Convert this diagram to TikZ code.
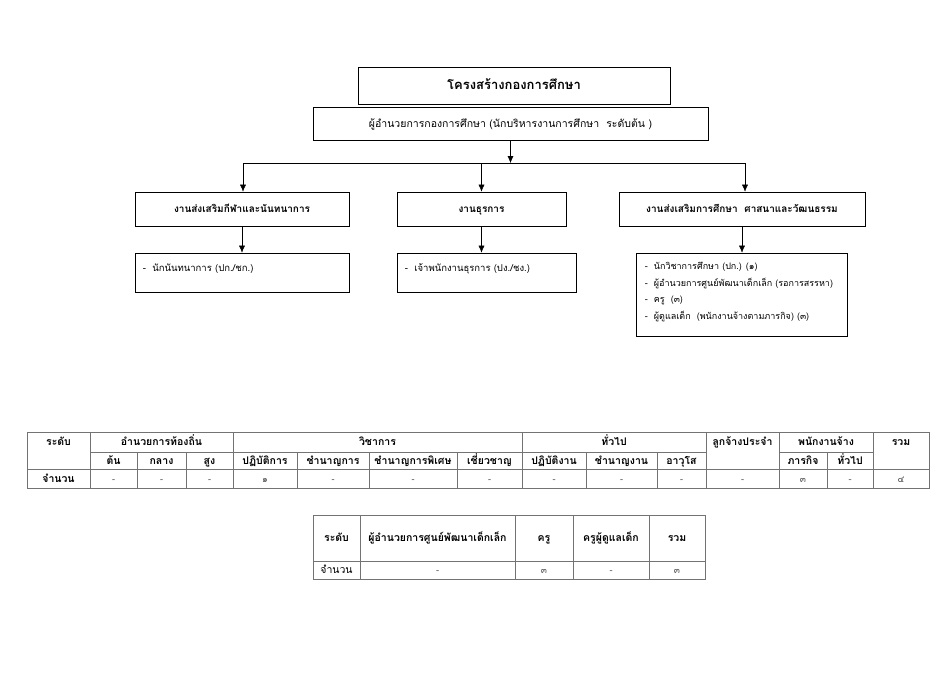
\documentclass[tikz,border=0pt]{standalone}
\usepackage{fontspec}
\setmainfont[Script = Thai]{Loma}
\usetikzlibrary{positioning}
\usetikzlibrary{calc}
\usetikzlibrary{arrows.meta}

\begin{document}
\begin{tikzpicture}
    [
        x = 1pt, y = -1pt,
        >= {Latex[length = 7pt, width = 6pt]},
        box/.style = {draw = black, line width = .7pt, inner sep = 0pt, align = center,
                      text height = .9em, text depth = .15em},
        txt/.style = {font = \fontsize{10.5}{12}\selectfont, inner sep = 0pt,
                      text height = .9em, text depth = .15em},
        bold/.style = {font = \fontsize{10.5}{12}\selectfont\bfseries, inner sep = 0pt,
                       text height = .9em, text depth = .15em},
        value/.style = {font = \fontsize{9}{10}\selectfont, inner sep = 0pt, text = black!70,
                        text height = .9em, text depth = .15em},
        grid/.style = {draw = black!55, line width = .6pt}
    ]
    \useasboundingbox (0,0) rectangle (950,672);

    % Draw the head of the division:
    \node [box, minimum width = 312, minimum height = 37, font = \fontsize{13}{15}\selectfont\bfseries]
        (title) at (514,85.5) {โครงสร้างกองการศึกษา};
    \node [box, minimum width = 395, minimum height = 33, font = \fontsize{10.5}{12}\selectfont]
        (director) at (510.5,123.5) {ผู้อำนวยการกองการศึกษา (นักบริหารงานการศึกษา~~ระดับต้น )};

    % Draw the three sections:
    \node [box, minimum width = 214, minimum height = 34, font = \fontsize{10}{12}\selectfont\bfseries]
        (sport) at (242,209) {งานส่งเสริมกีฬาและนันทนาการ};
    \node [box, minimum width = 169, minimum height = 34, font = \fontsize{10}{12}\selectfont\bfseries]
        (admin) at (481.5,209) {งานธุรการ};
    \node [box, minimum width = 246, minimum height = 34, font = \fontsize{10}{12}\selectfont\bfseries]
        (edu) at (742,209) {งานส่งเสริมการศึกษา~~ศาสนาและวัฒนธรรม};

    % Draw the staff of each section:
    \node [box, minimum width = 214, minimum height = 39] (sportstaff) at (242,272.5) {};
    \node [box, minimum width = 179, minimum height = 39] (adminstaff) at (486.5,272.5) {};
    \node [box, minimum width = 211, minimum height = 83] (edustaff) at (741.5,294.5) {};

    \node [txt, anchor = west, font = \fontsize{9.5}{11}\selectfont] (sportlist)
        at ($(sportstaff.west)+(8,-4.5)$) {-~~นักนันทนาการ (ปก./ชก.)};
    \node [txt, anchor = west, font = \fontsize{9.5}{11}\selectfont] (adminlist)
        at ($(adminstaff.west)+(8,-4.5)$) {-~~เจ้าพนักงานธุรการ (ปง./ชง.)};
    \node [anchor = north west, align = left, inner sep = 0pt, font = \fontsize{9}{16.8}\selectfont]
        (edulist) at ($(edustaff.north west)+(9,9)$)
        {-~~นักวิชาการศึกษา (ปก.) (๑)\\
         -~~ผู้อำนวยการศูนย์พัฒนาเด็กเล็ก (รอการสรรหา)\\
         -~~ครู~~(๓)\\
         -~~ผู้ดูแลเด็ก~~(พนักงานจ้างตามภารกิจ) (๓)};

    % Draw the connectors:
    \coordinate (branchL) at (243,163);
    \coordinate (branchR) at (745,163);
    \draw [->] (director.south) -- (director.south |- branchL);
    \draw (branchL) -- (branchR);
    \draw [->] (branchL) -- (branchL |- sport.north);
    \draw [->] (admin.north |- branchL) -- (admin.north);
    \draw [->] (branchR) -- (branchR |- edu.north);
    \draw [->] (sport.south) -- (sportstaff.north);
    \draw [->] (admin.south) -- (admin.south |- adminstaff.north);
    \draw [->] (edu.south) -- (edu.south |- edustaff.north);

    % Draw the first table:
    \draw [grid] (27,432) rectangle (929,488);
    \draw [grid] (90,452) -- (706,452);
    \draw [grid] (779,452) -- (873,452);
    \draw [grid] (27,469) -- (929,469);
    \foreach \x in {90, 233, 522, 706, 779, 873}
        \draw [grid] (\x,432) -- (\x,488);
    \foreach \x in {137, 186, 297, 369, 457, 586, 657, 827}
        \draw [grid] (\x,452) -- (\x,488);

    \foreach \x/\t [count = \i] in {58.5/ระดับ, 161.5/อำนวยการท้องถิ่น, 377.5/วิชาการ, 614/ทั่วไป,
                                    742.5/ลูกจ้างประจำ, 826/พนักงานจ้าง, 901/รวม}
        \node [bold] (group\i) at (\x,442) {\t};
    \foreach \x/\t [count = \i] in {113.5/ต้น, 161.5/กลาง, 209.5/สูง, 265/ปฏิบัติการ, 333/ชำนาญการ,
                                    413/ชำนาญการพิเศษ, 489.5/เชี่ยวชาญ, 554/ปฏิบัติงาน, 621.5/ชำนาญงาน,
                                    681.5/อาวุโส, 803/ภารกิจ, 850/ทั่วไป}
        \node [bold] (rank\i) at (\x,460.5) {\t};
    \node [bold] (count) at (58.5,478.5) {จำนวน};
    \foreach \x/\t [count = \i] in {113.5/-, 161.5/-, 209.5/-, 265/๑, 333/-, 413/-, 489.5/-, 554/-,
                                    621.5/-, 681.5/-, 742.5/-, 803/๓, 850/-, 901/๔}
        \node [value] (num\i) at (\x,478.5) {\t};

    % Draw the second table:
    \draw [grid] (313,515) rectangle (705,579);
    \draw [grid] (313,561) -- (705,561);
    \foreach \x in {360, 515, 573, 649}
        \draw [grid] (\x,515) -- (\x,579);
    \foreach \x/\t [count = \i] in {336.5/ระดับ, 437.5/ผู้อำนวยการศูนย์พัฒนาเด็กเล็ก, 544/ครู,
                                    611/ครูผู้ดูแลเด็ก, 677/รวม}
        \node [bold] (centre\i) at (\x,538) {\t};
    \node [txt] (centrecount) at (336.5,570) {จำนวน};
    \foreach \x/\t [count = \i] in {437.5/-, 544/๓, 611/-, 677/๓}
        \node [value] (centrenum\i) at (\x,570) {\t};
\end{tikzpicture}
\end{document}
